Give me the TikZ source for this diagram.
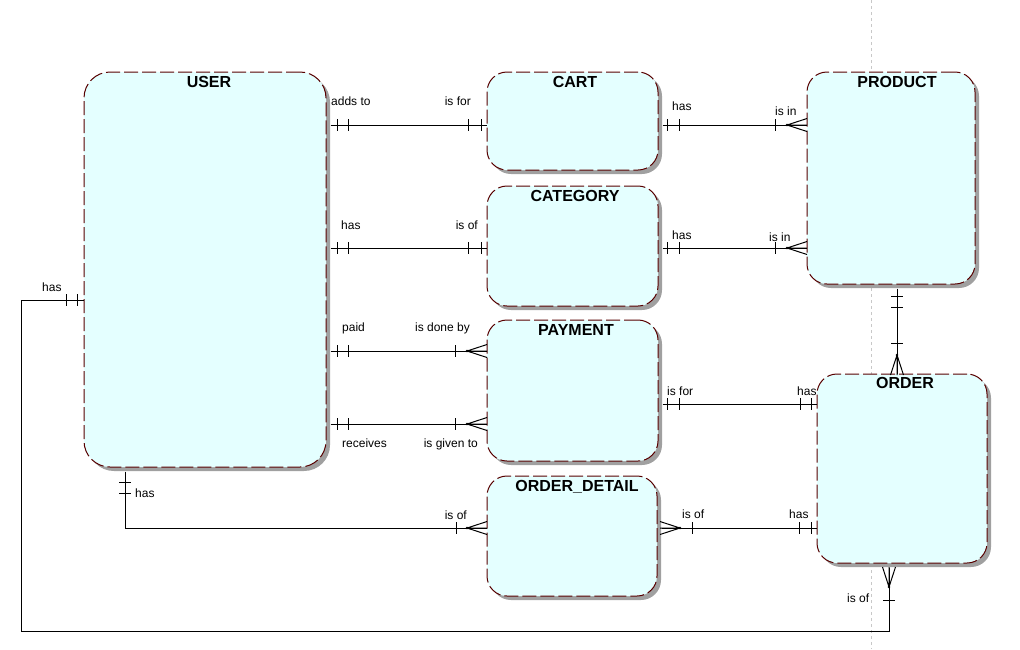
\documentclass[tikz,border=0pt]{standalone}
\usepackage{fontspec}
\setmainfont{Liberation Sans}
\usetikzlibrary{shadows}
\definecolor{entfill}{HTML}{E4FFFF}
\definecolor{entedge}{HTML}{580000}
\definecolor{entshade}{HTML}{A0A0A0}
\definecolor{guide}{HTML}{C8C8C8}
\tikzset{
  entity/.style={draw=entedge, fill=entfill, line width=1pt,
    dash pattern=on 14pt off 4pt, rounded corners=20pt, inner sep=0pt,
    general shadow={fill=entshade, draw=none, shadow xshift=4pt, shadow yshift=-4pt}},
  title/.style={font=\fontsize{16}{18}\selectfont\bfseries, anchor=base, inner sep=0pt},
  lbl/.style={font=\fontsize{12}{14}\selectfont, inner sep=0pt},
  link/.style={draw=black, line width=1pt},
  % single bar across a connector (drawn across a horizontal line)
  bar/.pic={\draw[link] (0,-6) -- (0,6);},
  % crow's foot: point at the origin, opening towards +x
  crow/.pic={\draw[link] (0,0) -- (20,-6.5) (0,0) -- (20,0) (0,0) -- (20,6.5);
             \fill (0,0) circle (1.3);}
}
\begin{document}
\begin{tikzpicture}[x=1pt,y=-1pt]
\useasboundingbox (0,0) rectangle (1020,649);

% page guide
\draw[guide, line width=0.8pt, dash pattern=on 3pt off 3pt] (871,0) -- (871,649);

% entities
\node[entity, rounded corners=26pt, minimum width=242pt, minimum height=395pt] (user) at (205,269.5) {};
\node[entity, minimum width=171pt, minimum height=98pt]  (cart)     at (572.5,121) {};
\node[entity, minimum width=171pt, minimum height=120pt] (category) at (572.5,246) {};
\node[entity, minimum width=171pt, minimum height=141pt] (payment)  at (572.5,390.5) {};
\node[entity, minimum width=170pt, minimum height=120pt] (orderdetail) at (572,536) {};
\node[entity, minimum width=168pt, minimum height=212pt] (product)  at (891,178) {};
\node[entity, minimum width=170pt, minimum height=189pt] (order)    at (902,468.5) {};

% entity titles
\node[title] (userT) at (209,87) {USER};
\node[title] (cartT) at (575,87) {CART};
\node[title] (categoryT) at (575,201) {CATEGORY};
\node[title] (paymentT) at (576,335) {PAYMENT};
\node[title] (orderdetailT) at (577,491) {ORDER\_DETAIL};
\node[title] (productT) at (897,87) {PRODUCT};
\node[title] (orderT) at (905,388) {ORDER};

% levels of the connectors
\coordinate (yCart) at (0,125);
\coordinate (yCat) at (0,248);
\coordinate (yPaid) at (0,351);
\coordinate (yRecv) at (0,424);
\coordinate (yPayOrd) at (0,404);
\coordinate (yDetail) at (0,528);
\coordinate (yUserLoop) at (0,300);
\coordinate (xUserDown) at (125,0);
\coordinate (xProdOrd) at (897,0);
\coordinate (xLoop) at (889,0);
\coordinate (loopA) at (21,300);
\coordinate (loopB) at (21,631);
\coordinate (loopC) at (889,631);

% USER -- CART
\draw[link] ([xshift=4pt]user.east |- yCart) -- (cart.west |- yCart);
\pic at (337,125) {bar}; \pic at (348,125) {bar};
\pic at (468,125) {bar}; \pic at (481,125) {bar};
\node[lbl, anchor=base west] (l1) at (331,105) {adds to};
\node[lbl, anchor=base east] (l2) at (471,105) {is for};

% CART -- PRODUCT
\draw[link] ([xshift=4pt]cart.east |- yCart) -- (product.west |- yCart);
\pic at (667,125) {bar}; \pic at (679,125) {bar};
\pic at (775,125) {bar}; \pic at (787,125) {crow};
\node[lbl, anchor=base west] (l3) at (672,110) {has};
\node[lbl, anchor=base west] (l4) at (775,115) {is in};

% USER -- CATEGORY
\draw[link] ([xshift=4pt]user.east |- yCat) -- (category.west |- yCat);
\pic at (337,248) {bar}; \pic at (348,248) {bar};
\pic at (468,248) {bar}; \pic at (481,248) {bar};
\node[lbl, anchor=base west] (l5) at (341,229) {has};
\node[lbl, anchor=base east] (l6) at (478,229) {is of};

% CATEGORY -- PRODUCT
\draw[link] ([xshift=4pt]category.east |- yCat) -- (product.west |- yCat);
\pic at (667,248) {bar}; \pic at (679,248) {bar};
\pic at (775,248) {bar}; \pic at (787,248) {crow};
\node[lbl, anchor=base west] (l7) at (672,239) {has};
\node[lbl, anchor=base west] (l8) at (769,241) {is in};

% USER -- PAYMENT (paid)
\draw[link] ([xshift=4pt]user.east |- yPaid) -- (payment.west |- yPaid);
\pic at (337,351) {bar}; \pic at (348,351) {bar};
\pic at (455,351) {bar}; \pic at (467,351) {crow};
\node[lbl, anchor=base west] (l9) at (342,331) {paid};
\node[lbl, anchor=base east] (l10) at (470,331) {is done by};

% USER -- PAYMENT (receives)
\draw[link] ([xshift=4pt]user.east |- yRecv) -- (payment.west |- yRecv);
\pic at (337,424) {bar}; \pic at (348,424) {bar};
\pic at (455,424) {bar}; \pic at (467,424) {crow};
\node[lbl, anchor=base west] (l11) at (342,447) {receives};
\node[lbl, anchor=base east] (l12) at (478,447) {is given to};

% PAYMENT -- ORDER
\draw[link] ([xshift=4pt]payment.east |- yPayOrd) -- (order.west |- yPayOrd);
\pic at (667,404) {bar}; \pic at (679,404) {bar};
\pic at (800,404) {bar}; \pic at (811,404) {bar};
\node[lbl, anchor=base west] (l13) at (667,395) {is for};
\node[lbl, anchor=base west] (l14) at (797,395) {has};

% USER -- ORDER_DETAIL
\draw[link] ([yshift=-4pt]user.south -| xUserDown) -- (xUserDown |- yDetail) -- (orderdetail.west |- yDetail);
\pic[rotate=90] at (125,482) {bar}; \pic[rotate=90] at (125,493) {bar};
\pic at (456,528) {bar}; \pic at (467,528) {crow};
\node[lbl, anchor=base west] (l15) at (135,497) {has};
\node[lbl, anchor=base east] (l16) at (467,519) {is of};

% ORDER_DETAIL -- ORDER
\draw[link] ([xshift=4pt]orderdetail.east |- yDetail) -- (order.west |- yDetail);
\pic[rotate=180] at (680,528) {crow}; \pic at (692,528) {bar};
\pic at (799,528) {bar}; \pic at (811,528) {bar};
\node[lbl, anchor=base west] (l17) at (682,518) {is of};
\node[lbl, anchor=base west] (l18) at (789,518) {has};

% PRODUCT -- ORDER
\draw[link] ([yshift=-4pt]product.south -| xProdOrd) -- (order.north -| xProdOrd);
\pic[rotate=90] at (897,296) {bar}; \pic[rotate=90] at (897,307) {bar};
\pic[rotate=90] at (897,343) {bar}; \pic[rotate=-90] at (897,355) {crow};

% USER -- ORDER (outer loop)
\draw[link] (user.west |- yUserLoop) -- (loopA) -- (loopB) -- (loopC) -- ([yshift=-4pt]order.south -| xLoop);
\pic at (66,300) {bar}; \pic at (77,300) {bar};
\pic[rotate=90] at (889,587) {crow}; \pic[rotate=90] at (889,600) {bar};
\node[lbl, anchor=base west] (l19) at (42,291) {has};
\node[lbl, anchor=base west] (l20) at (847,602) {is of};
\end{tikzpicture}
\end{document}
